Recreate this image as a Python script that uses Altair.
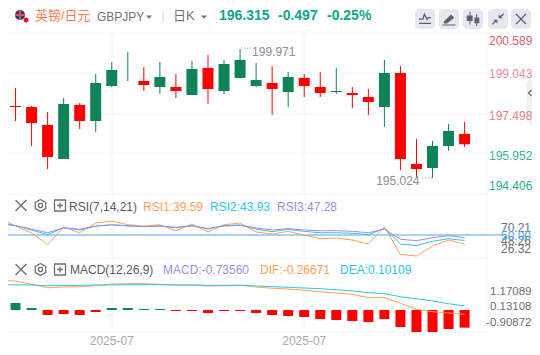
import altair as alt
import pandas as pd

idx = list(range(30))
open_ = [199.0,197.786,197.747,197.056,195.750,197.824,197.210,198.554,198.784,198.746,198.515,198.515,198.208,199.245,198.362,198.861,198.554,198.669,198.323,198.861,198.515,198.323,198.285,198.131,197.747,199.053,195.558,195.405,196.250,196.710]
close = [199.3,197.747,197.133,195.827,197.862,197.210,198.669,199.168,198.784,198.592,198.899,198.362,199.206,198.438,199.398,199.552,198.784,198.438,198.899,198.554,198.285,198.362,198.208,197.939,199.053,195.750,195.366,196.250,196.826,196.315]
high = [199.4,198.477,197.786,197.555,198.093,197.901,199.014,199.475,199.859,199.283,199.475,199.014,199.514,199.744,199.552,199.971,199.437,199.322,199.091,199.014,199.091,199.245,198.515,198.438,199.552,199.322,196.518,196.442,197.094,197.171]
low = [198.9,197.210,196.250,195.366,195.750,196.902,196.787,198.515,198.746,198.362,198.246,198.093,198.208,197.862,198.246,199.168,198.515,197.440,197.747,198.131,198.131,198.246,197.709,197.440,196.979,195.328,195.024,195.024,196.058,196.211]

rsi1 = [69.4,60.3,52.4,39.6,59.2,52.7,63.7,66.0,61.8,60.3,61.8,55.0,62.6,53.5,61.8,63.7,53.5,51.3,54.3,50.1,45.9,46.7,44.5,39.9,59.6,28.2,26.32,37.7,44.5,39.59]
rsi2 = [64.5,60.7,55.8,50.5,58.4,55.8,60.3,61.8,60.7,59.6,60.3,58.4,60.7,56.9,60.7,61.5,56.9,53.9,56.6,54.3,52.7,52.7,52.1,50.5,57.7,39.9,38.0,43.0,45.9,43.93]
rsi3 = [62.6,60.7,56.9,52.7,58.4,56.6,60.3,61.5,60.3,59.6,60.3,58.9,60.3,57.7,60.3,61.1,58.1,55.8,57.3,55.8,55.0,55.0,54.3,52.7,56.9,45.3,43.7,47.1,49.4,47.28]

dif = [1.239,1.208,1.062,0.912,0.942,0.956,1.000,1.075,1.088,1.088,1.062,1.031,1.031,0.987,1.000,1.018,0.942,0.889,0.854,0.796,0.735,0.677,0.619,0.469,0.469,0.221,-0.044,-0.150,-0.208,-0.26671]
dea = [1.031,1.044,1.031,1.000,1.009,1.018,1.031,1.031,1.044,1.044,1.044,1.031,1.031,1.018,1.018,1.018,0.987,0.960,0.929,0.898,0.867,0.823,0.765,0.690,0.646,0.513,0.425,0.323,0.204,0.10109]
macd = [0.417,0.292,0.083,-0.208,-0.167,-0.208,-0.083,0.083,0.083,0.042,0.042,-0.042,-0.042,-0.125,-0.042,-0.042,-0.125,-0.208,-0.25,-0.292,-0.375,-0.417,-0.458,-0.5,-0.375,-0.708,-0.917,-0.917,-0.792,-0.7356]

price_ticks = ["200.589","199.043","197.498","195.952","194.406"]
SANS = "Liberation Sans, Noto Sans CJK SC"
OFF = 8
RED, GREEN = "#ff0000", "#108457"
ORANGE, CYAN, PURPLE = "#ffa057", "#2ec5e0", "#a58be6"
GRID = "#f5f6f9"

xscale = alt.Scale(domain=[0, 29], range=[-8.5, 456.6], padding=0, nice=False, zero=False)
X = alt.X("i:Q", scale=xscale, axis=None)
one = alt.Data(values=[{"a": 1}])


def yq(field, dom, rng):
    return alt.Y(f"{field}:Q", scale=alt.Scale(domain=dom, range=rng, nice=False, zero=False), axis=None)


def txt(s, x, y, color, size=12, weight="normal", align="left"):
    return alt.Chart(alt.Data(values=[{"t": s}])).mark_text(
        font=SANS, fontSize=size, fontWeight=weight, align=align, baseline="middle", color=color
    ).encode(x=alt.value(x - OFF), y=alt.value(y - OFF), text="t:N")


def seg(x1, y1, x2, y2, color=GRID, w=1):
    return alt.Chart(one).mark_rule(color=color, strokeWidth=w).encode(
        x=alt.value(x1 - OFF), x2=alt.value(x2 - OFF), y=alt.value(y1 - OFF), y2=alt.value(y2 - OFF)
    )


def box(x1, y1, x2, y2, color, r=0):
    return alt.Chart(one).mark_rect(color=color, cornerRadius=r).encode(
        x=alt.value(x1 - OFF), x2=alt.value(x2 - OFF), y=alt.value(y1 - OFF), y2=alt.value(y2 - OFF)
    )


def icon(path, x, y, px, color="#5c6270", filled=False, sw=1.3):
    return alt.Chart(one).mark_point(
        shape=path, size=px * px, filled=filled, color=color, opacity=1,
        strokeWidth=0 if filled else sw
    ).encode(x=alt.value(x - OFF), y=alt.value(y - OFF))


layers = []

# side tab (under the price labels)
layers.append(icon("M-0.2 -0.45L0.2 -1L0.2 1L-0.2 0.55Z", 534, 100, 74, "#eef0f4", True))
layers.append(icon("M0.5 -1L-0.5 0L0.5 1", 530, 93, 6, "#6b6f7a"))

# grid
for gy in [33, 73, 114, 153, 194, 258, 332]:
    layers.append(seg(2, gy, 487, gy))
for gx in [112, 304]:
    layers.append(seg(gx, 33, gx, 332))
layers.append(seg(487, 33, 487, 332))

# price pane
pdf = pd.DataFrame({"i": idx, "o": open_, "c": close, "h": high, "l": low})
pdf["col"] = [RED if c < o else GREEN for o, c in zip(open_, close)]
pdom, prng = [194.406, 200.589], [186, 25]
col = alt.Color("col:N", scale=None)
layers.append(alt.Chart(pdf).mark_rule(strokeWidth=1).encode(
    x=X, y=yq("h", pdom, prng), y2="l:Q", color=col))
layers.append(alt.Chart(pdf).mark_bar(size=11, minBandSize=1).encode(
    x=X, y=yq("o", pdom, prng), y2="c:Q", color=col))

# hi/lo annotations
extra = pd.DataFrame({"i": [15, 27], "p": [199.971, 195.024], "t": ["199.971", "195.024"]})
layers.append(alt.Chart(extra[extra.i == 15]).mark_text(
    font=SANS, fontSize=12, color="#8a8e99", align="left", dx=12, dy=3).encode(
    x=X, y=yq("p", pdom, prng), text="t:N"))
layers.append(alt.Chart(extra[extra.i == 27]).mark_text(
    font=SANS, fontSize=12, color="#8a8e99", align="right", dx=-13, dy=3).encode(
    x=X, y=yq("p", pdom, prng), text="t:N"))
layers.append(alt.Chart(one).mark_rule(color="#9a9ea8", strokeDash=[1, 2]).encode(
    x=alt.value(241 - OFF), x2=alt.value(252 - OFF), y=alt.value(48 - OFF), y2=alt.value(48 - OFF)))
layers.append(alt.Chart(one).mark_rule(color="#9a9ea8", strokeDash=[1, 2]).encode(
    x=alt.value(422 - OFF), x2=alt.value(432 - OFF), y=alt.value(178 - OFF), y2=alt.value(178 - OFF)))

# RSI pane
rdom, rrng = [26.32, 70.21], [248, 209.3]
layers.append(alt.Chart(pd.DataFrame({"v": [50.0], "i0": [0]})).mark_rule(color="#8cc2f2", strokeWidth=1.5).encode(
    x=alt.value(0), x2=alt.value(495), y=yq("v", rdom, rrng)))
for ser, c in [(rsi1, ORANGE), (rsi2, CYAN), (rsi3, PURPLE)]:
    layers.append(alt.Chart(pd.DataFrame({"i": idx, "v": ser})).mark_line(color=c, strokeWidth=1).encode(
        x=X, y=yq("v", rdom, rrng)))

# MACD pane
hdf = pd.DataFrame({"i": idx, "m": macd, "z": [0.0] * 30})
hdf["col"] = [GREEN if m > 0 else RED for m in macd]
layers.append(alt.Chart(hdf).mark_bar(size=10).encode(
    x=X, y=yq("m", [-1, 1], [326, 278]), y2="z:Q", color=col))
for ser, c in [(dif, ORANGE), (dea, CYAN)]:
    layers.append(alt.Chart(pd.DataFrame({"i": idx, "v": ser})).mark_line(color=c, strokeWidth=1).encode(
        x=X, y=yq("v", [-1, 1], [322.9, 277.7])))

# date labels
dates = pd.DataFrame({"i": [7, 19], "t": ["2025-07", "2025-07"]})
layers.append(alt.Chart(dates).mark_text(font=SANS, fontSize=12, color="#a4a8b3", baseline="middle").encode(
    x=X, y=alt.value(341 - OFF), text="t:N"))

# right-side labels
for s, y, c in zip(price_ticks, [41, 74, 116, 156, 186],
                   ["#e35d6a", "#ea8c98", "#e2808c", "#37b59e", "#1fad95"]):
    layers.append(txt(s, 489, y, c, 12))
for s, y, c in [("70.21", 228, "#6b6f7a"), ("48.26", 241, "#6b6f7a"), ("26.32", 249, "#6b6f7a"), ("50.00", 236, "#4aa8f0")]:
    layers.append(txt(s, 501, y, c, 12))
for s, y in [("1.17089", 292, ), ("0.13108", 307), ("-0.90872", 323)]:
    layers.append(txt(s, 531.5, y, "#6b6f7a", 11.5, align="right"))

# header
layers.append(icon("M-1 0A1 1 0 1 0 1 0A1 1 0 1 0 -1 0Z", 20, 15, 10, "#2f3b70", True))
layers.append(seg(15, 15, 25, 15, "#e05060", 2))
layers.append(seg(20, 10, 20, 20, "#e05060", 2))
layers.append(icon("M-1 0A1 1 0 1 0 1 0A1 1 0 1 0 -1 0Z", 26, 20, 5, "#f01010", True))
layers.append(txt("英镑/日元", 35, 16, "#ff7d55", 13))
layers.append(txt("GBPJPY", 97, 17, "#6f7380", 12))
tri = "M-1 -0.5L1 -0.5L0 0.6Z"
layers.append(icon(tri, 149, 17, 6, "#6f7380", True))
layers.append(seg(163, 11, 163, 23, "#d5d8e0"))
layers.append(txt("日K", 173, 16, "#6f7380", 13))
layers.append(icon(tri, 204, 17, 6, "#6f7380", True))
layers.append(txt("196.315", 219, 16, "#0fa68b", 14, "bold"))
layers.append(txt("-0.497", 278, 16, "#0fa68b", 14, "bold"))
layers.append(txt("-0.25%", 327, 16, "#0fa68b", 14, "bold"))

for x1 in [415, 439, 463, 488, 511]:
    layers.append(box(x1, 9, x1 + 20, 29, "#e6e8ef", 4))
layers.append(icon("M-1 0.1L-0.35 0.1L-0.1 -0.7L0.35 0.15L0.55 -0.15L1 -0.15M-1 0.8L1 0.8", 425, 18.5, 12))
layers.append(icon("M-0.8 0.4L0.3 -0.7L0.8 -0.2L-0.3 0.7L-0.8 0.7ZM-1 0.85L1 0.85L1 1L-1 1Z", 449, 19, 13, filled=True))
layers.append(icon("M-0.9 -0.5L-0.5 -0.5L-0.5 -1L-0.35 -1L-0.35 -0.5L-0.05 -0.5L-0.05 0.3L-0.35 0.3L-0.35 0.8L-0.5 0.8L-0.5 0.3L-0.9 0.3Z"
                   "M0.2 -0.2L0.45 -0.2L0.45 -0.7L0.6 -0.7L0.6 -0.2L0.9 -0.2L0.9 0.6L0.6 0.6L0.6 1L0.45 1L0.45 0.6L0.2 0.6Z", 473, 19, 14, filled=True))
layers.append(icon("M0.1 -0.1L0.1 -0.7L0.35 -0.45L0.8 -0.9L0.95 -0.75L0.5 -0.3L0.75 -0.1Z"
                   "M-0.1 0.1L-0.1 0.7L-0.35 0.45L-0.8 0.9L-0.95 0.75L-0.5 0.3L-0.75 0.1Z", 498, 19, 13, filled=True))
layers.append(icon("M-1 -1L1 1M1 -1L-1 1", 521, 19, 10))

# pane toolbars
hexa = "M0 -1L0.87 -0.5L0.87 0.5L0 1L-0.87 0.5L-0.87 -0.5ZM0.35 0A0.35 0.35 0 1 1 -0.35 0A0.35 0.35 0 1 1 0.35 0Z"
plus = "M-1 -1L1 -1L1 1L-1 1ZM-0.55 0L0.55 0M0 -0.55L0 0.55"
for y in [205.5, 269.5]:
    layers.append(icon("M-1 -1L1 1M1 -1L-1 1", 21, y, 11, "#6b6f7a"))
    layers.append(icon(hexa, 40.5, y, 12, "#6b6f7a"))
    layers.append(icon(plus, 60, y, 11, "#6b6f7a"))
layers.append(txt("RSI(7,14,21)", 69, 206.5, "#555963", 12))
layers.append(txt("RSI1:39.59", 143, 206.5, ORANGE, 12))
layers.append(txt("RSI2:43.93", 210, 206.5, CYAN, 12))
layers.append(txt("RSI3:47.28", 277, 206.5, PURPLE, 12))
layers.append(txt("MACD(12,26,9)", 70, 270, "#555963", 12))
layers.append(txt("MACD:-0.73560", 163, 270, PURPLE, 12))
layers.append(txt("DIF:-0.26671", 260, 270, ORANGE, 12))
layers.append(txt("DEA:0.10109", 340, 270, CYAN, 12))

chart = alt.layer(*layers).resolve_scale(y="independent").properties(
    width=524, height=339, padding=0, autosize=alt.AutoSizeParams(type="none"),
    background="white"
).configure_view(stroke=None)

chart.save("out.html", embed_options={"renderer": "svg", "actions": False})
